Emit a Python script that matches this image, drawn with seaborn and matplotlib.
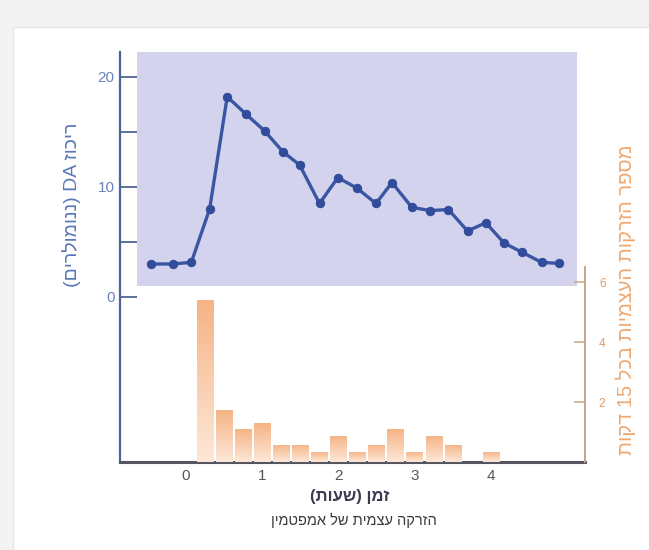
import re
import numpy as np
import pandas as pd
import matplotlib
matplotlib.use("Agg")
import matplotlib.pyplot as plt
from matplotlib.patches import Rectangle
from matplotlib.colors import LinearSegmentedColormap
import seaborn as sns

# ---------------- data ----------------
hours = [-0.46, -0.17, 0.07, 0.31, 0.54, 0.79, 1.03, 1.27, 1.49, 1.75, 1.99, 2.24,
         2.49, 2.70, 2.96, 3.20, 3.44, 3.69, 3.93, 4.17, 4.41, 4.66, 4.89]
da_nM = [3.0, 3.0, 3.15, 8.0, 18.2, 16.6, 15.1, 13.2, 12.0, 8.5, 10.85, 9.9,
         8.5, 10.4, 8.15, 7.85, 7.95, 6.0, 6.75, 4.9, 4.05, 3.15, 3.05]

bin_hours = [0.25, 0.5, 0.75, 1.0, 1.25, 1.5, 1.75, 2.0, 2.25, 2.5, 2.75, 3.0,
             3.25, 3.5, 3.75, 4.0]
injections = [5.4, 1.75, 1.1, 1.3, 0.57, 0.58, 0.34, 0.87, 0.34, 0.57, 1.1, 0.34,
              0.87, 0.57, 0.0, 0.34]

x_ticks = [0, 1, 2, 3, 4]
left_ticks = [0, 5, 10, 15, 20]
left_tick_labels = ["0", "", "10", "", "20"]
right_ticks = [2, 4, 6]

xlabel_1 = "זמן (שעות)"
xlabel_2 = "הזרקה עצמית של אמפטמין"
left_label = "ריכוז DA (ננומולרים)"
right_label = "מספר הזרקות העצמיות בכל 15 דקות"


def heb(s):
    """Visual (LTR glyph) order for right-to-left Hebrew text."""
    r = s[::-1]
    r = re.sub(r"[A-Za-z0-9]+", lambda m: m.group(0)[::-1], r)
    return r.translate(str.maketrans("()", ")("))


sns.set_style("white")
plt.rcParams["font.family"] = ["Liberation Sans", "DejaVu Sans"]

W, H = 649, 550
fig = plt.figure(figsize=(W / 100, H / 100), dpi=100)
fig.patch.set_facecolor("#f3f3f3")
fig.patches.append(Rectangle((13 / W, 0), 1, 1 - 27 / H, transform=fig.transFigure,
                             facecolor="white", edgecolor="#e6e6e6", lw=1, zorder=-5))

ax = fig.add_axes([120 / W, 88 / H, 465 / W, 410 / H])
ax.set_facecolor("none")
ax2 = ax.twinx()
ax2.set_facecolor("none")

# lavender panel behind the concentration curve
ax.add_patch(Rectangle((-0.64, 1.0), 5.76, 21.3, facecolor="#d3d3ee",
                       edgecolor="none", zorder=0))

df_line = pd.DataFrame({"h": hours, "da": da_nM})
sns.lineplot(data=df_line, x="h", y="da", ax=ax, color="#3a56a3", lw=2.4,
             marker="o", markersize=6, markeredgecolor="#304c9a",
             markerfacecolor="#304c9a", zorder=3)

df_bar = pd.DataFrame({"h": bin_hours, "n": injections})
sns.barplot(data=df_bar, x="h", y="n", ax=ax2, native_scale=True, width=0.88,
            color="#f7b585", edgecolor="none", zorder=2)

cmap = LinearSegmentedColormap.from_list("g", ["#fde8d8", "#f6b385"])
grad = np.linspace(0, 1, 256).reshape(-1, 1)
for p in list(ax2.patches):
    h = p.get_height()
    if h <= 0:
        continue
    x0, y0, w = p.get_x(), p.get_y(), p.get_width()
    im = ax2.imshow(grad, extent=[x0, x0 + w, y0, y0 + h], origin="lower",
                    cmap=cmap, aspect="auto", zorder=2.1, interpolation="bilinear")
    im.set_clip_path(p)

ax.set_xlim(-0.865, 5.23)
ax2.set_xlim(-0.865, 5.23)
ax.set_ylim(-15, 22.27)
ax2.set_ylim(0, 13.67)

# spines
for s in ["top", "right"]:
    ax.spines[s].set_visible(False)
ax.spines["left"].set_color("#4e6496")
ax.spines["left"].set_linewidth(1.6)
ax.spines["bottom"].set_color("#555560")
ax.spines["bottom"].set_linewidth(2.2)
for s in ["top", "left", "bottom"]:
    ax2.spines[s].set_visible(False)
ax2.spines["right"].set_color("#c8a488")
ax2.spines["right"].set_linewidth(1.4)
ax2.spines["right"].set_bounds(0, 6.5)

# ticks
ax.set_xticks(x_ticks)
ax.set_xticklabels([str(t) for t in x_ticks])
ax.tick_params(axis="x", length=0, pad=5, labelsize=11, labelcolor="#555555")
ax.set_yticks(left_ticks)
ax.set_yticklabels(left_tick_labels)
ax.tick_params(axis="y", direction="in", length=12, width=1.3, color="#4e6496",
               labelsize=11, labelcolor="#6a84bf", pad=4)
ax2.set_yticks(right_ticks)
ax2.set_yticklabels([str(t) for t in right_ticks])
ax2.tick_params(axis="y", direction="in", length=8, width=1.1, color="#c8a488",
                labelsize=8.5, labelcolor="#e09a66", pad=10)

ax.set_xlabel("")
ax.set_ylabel("")
ax2.set_ylabel("")

# labels
fig.text(350 / W, 1 - 497 / H, heb(xlabel_1), ha="center", va="center",
         fontsize=12, fontweight="bold", color="#3a3a50")
fig.text(354 / W, 1 - 520 / H, heb(xlabel_2), ha="center", va="center",
         fontsize=10.5, color="#3a3a40")
fig.text(72 / W, 1 - 205 / H, heb(left_label), ha="center", va="center",
         rotation=90, fontsize=14, color="#5a78b8")
fig.text(626 / W, 1 - 300 / H, heb(right_label), ha="center", va="center",
         rotation=90, fontsize=14.5, color="#f0a870")

fig.savefig("out.png", dpi=100, facecolor=fig.get_facecolor())
